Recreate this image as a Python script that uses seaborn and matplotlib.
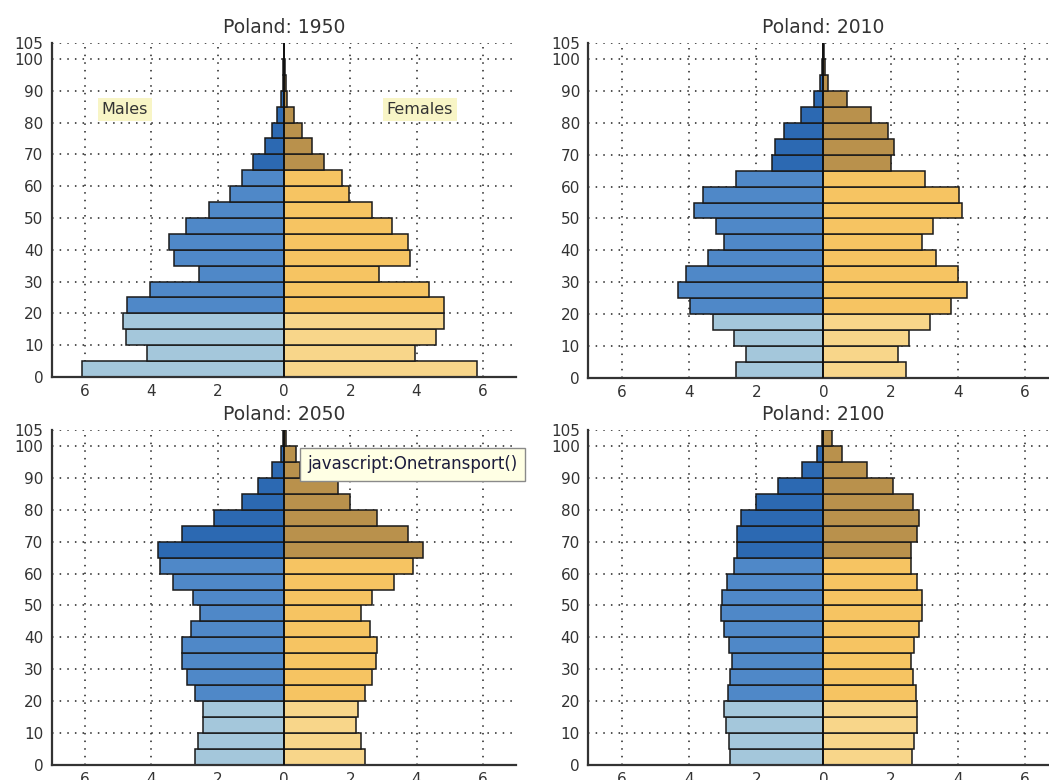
import numpy as np
import pandas as pd
import matplotlib
matplotlib.use("Agg")
import matplotlib.pyplot as plt
import seaborn as sns

# ---- data: percent of population by 5-year age group (0-4 ... 100+) ----
age_starts = list(range(0, 105, 5))

males_1950 = [6.10, 4.14, 4.77, 4.86, 4.72, 4.03, 2.55, 3.31, 3.46, 2.96, 2.25,
              1.62, 1.26, 0.94, 0.57, 0.37, 0.20, 0.09, 0.04, 0.02, 0.01]
females_1950 = [5.81, 3.95, 4.58, 4.82, 4.82, 4.38, 2.86, 3.80, 3.75, 3.26, 2.66,
                1.97, 1.74, 1.22, 0.85, 0.54, 0.31, 0.10, 0.05, 0.02, 0.01]

males_2010 = [2.61, 2.31, 2.65, 3.30, 3.96, 4.34, 4.09, 3.44, 2.96, 3.19, 3.84,
              3.59, 2.60, 1.52, 1.44, 1.16, 0.67, 0.28, 0.10, 0.03, 0.01]
females_2010 = [2.46, 2.21, 2.55, 3.18, 3.81, 4.27, 4.00, 3.35, 2.95, 3.28, 4.12,
                4.05, 3.03, 2.01, 2.11, 1.94, 1.43, 0.69, 0.15, 0.05, 0.02]

males_2050 = [2.68, 2.58, 2.43, 2.43, 2.68, 2.91, 3.06, 3.06, 2.80, 2.53, 2.75,
              3.34, 3.74, 3.79, 3.06, 2.10, 1.26, 0.77, 0.37, 0.09, 0.03]
females_2050 = [2.44, 2.32, 2.17, 2.24, 2.44, 2.66, 2.79, 2.81, 2.59, 2.32, 2.66,
                3.32, 3.90, 4.20, 3.75, 2.81, 1.99, 1.62, 0.48, 0.38, 0.05]

males_2100 = [2.77, 2.80, 2.91, 2.96, 2.85, 2.77, 2.71, 2.80, 2.96, 3.05, 3.01,
              2.86, 2.66, 2.56, 2.56, 2.46, 2.01, 1.36, 0.63, 0.18, 0.03]
females_2100 = [2.65, 2.71, 2.80, 2.80, 2.76, 2.66, 2.60, 2.70, 2.85, 2.95, 2.95,
                2.80, 2.61, 2.60, 2.78, 2.85, 2.66, 2.06, 1.29, 0.55, 0.27]

years = ["1950", "2010", "2050", "2100"]
male_series = [males_1950, males_2010, males_2050, males_2100]
female_series = [females_1950, females_2010, females_2050, females_2100]

x_ticks = [-6, -4, -2, 0, 2, 4, 6]
y_ticks = [0, 10, 20, 30, 40, 50, 60, 70, 80, 90, 100, 105]

palette = {
    "m_young": "#a4c7db", "m_adult": "#4f88c8", "m_old": "#2c69b2",
    "f_young": "#f8d68a", "f_adult": "#f6c462", "f_old": "#b9914c",
}


def age_group(a):
    if a < 20:
        return "young"
    if a < 65:
        return "adult"
    return "old"


def build_frame(males, females):
    rows = []
    for a, m, f in zip(age_starts, males, females):
        g = age_group(a)
        rows.append({"age": a + 2.5, "value": -m, "grp": "m_" + g})
        rows.append({"age": a + 2.5, "value": f, "grp": "f_" + g})
    return pd.DataFrame(rows)


sns.set_style("white")
plt.rcParams["font.family"] = ["DejaVu Sans"]

W, H = 1049, 780
fig = plt.figure(figsize=(W / 100, H / 100), dpi=100)

# axes rectangles in pixels: (left, top, right, bottom)
rects = [
    (51.8, 43, 516.0, 377),
    (588.3, 43, 1058.4, 378),
    (51.8, 430, 516.0, 765),
    (588.3, 430, 1058.4, 765),
]

dark = "#333333"
for i, (year, males, females) in enumerate(zip(years, male_series, female_series)):
    l, t, r, b = rects[i]
    ax = fig.add_axes([l / W, 1 - b / H, (r - l) / W, (b - t) / H])
    df = build_frame(males, females)
    sns.barplot(data=df, x="value", y="age", hue="grp", palette=palette,
                orient="y", native_scale=True, dodge=False, width=1.0,
                saturation=1, edgecolor="#1a1a1a", linewidth=1.1,
                errorbar=None, legend=False, ax=ax)
    ax.axvline(0, color="#111111", linewidth=1.3, zorder=5)
    ax.set_xlim(-7, 7)
    ax.set_ylim(0, 105)
    ax.set_xticks(x_ticks)
    ax.set_xticklabels([str(abs(v)) for v in x_ticks])
    ax.set_yticks(y_ticks)
    ax.set_yticklabels([str(v) for v in y_ticks])
    ax.set_xlabel("")
    ax.set_ylabel("")
    ax.grid(True, linestyle=(0, (1, 4)), color="#222222", linewidth=1.1)
    ax.set_axisbelow(True)
    ax.tick_params(axis="both", length=0, labelsize=11, labelcolor=dark)
    ax.tick_params(axis="y", pad=6)
    ax.tick_params(axis="x", pad=5)
    for s in ["top", "right"]:
        ax.spines[s].set_visible(False)
    for s in ["left", "bottom"]:
        ax.spines[s].set_color(dark)
        ax.spines[s].set_linewidth(1.6)
    ax.set_title(f"Poland: {year}", fontsize=13.5, color=dark, pad=7)

    if i == 0:
        box = dict(boxstyle="square,pad=0.25", facecolor="#f8f5c6", edgecolor="none")
        ax.text(-4.8, 84, "Males", fontsize=11.5, color=dark, ha="center",
                va="center", bbox=box, zorder=6)
        ax.text(4.1, 84, "Females", fontsize=11.5, color=dark, ha="center",
                va="center", bbox=box, zorder=6)

# browser tooltip captured in the screenshot
fig.text(307 / W, 1 - 464 / H, "javascript:Onetransport()", fontsize=12,
         color="#1c1c3c", ha="left", va="center", zorder=20,
         bbox=dict(boxstyle="square,pad=0.45", facecolor="#ffffe4",
                   edgecolor="#8a8a8a", linewidth=1.0))

fig.savefig("out.png", dpi=100)
